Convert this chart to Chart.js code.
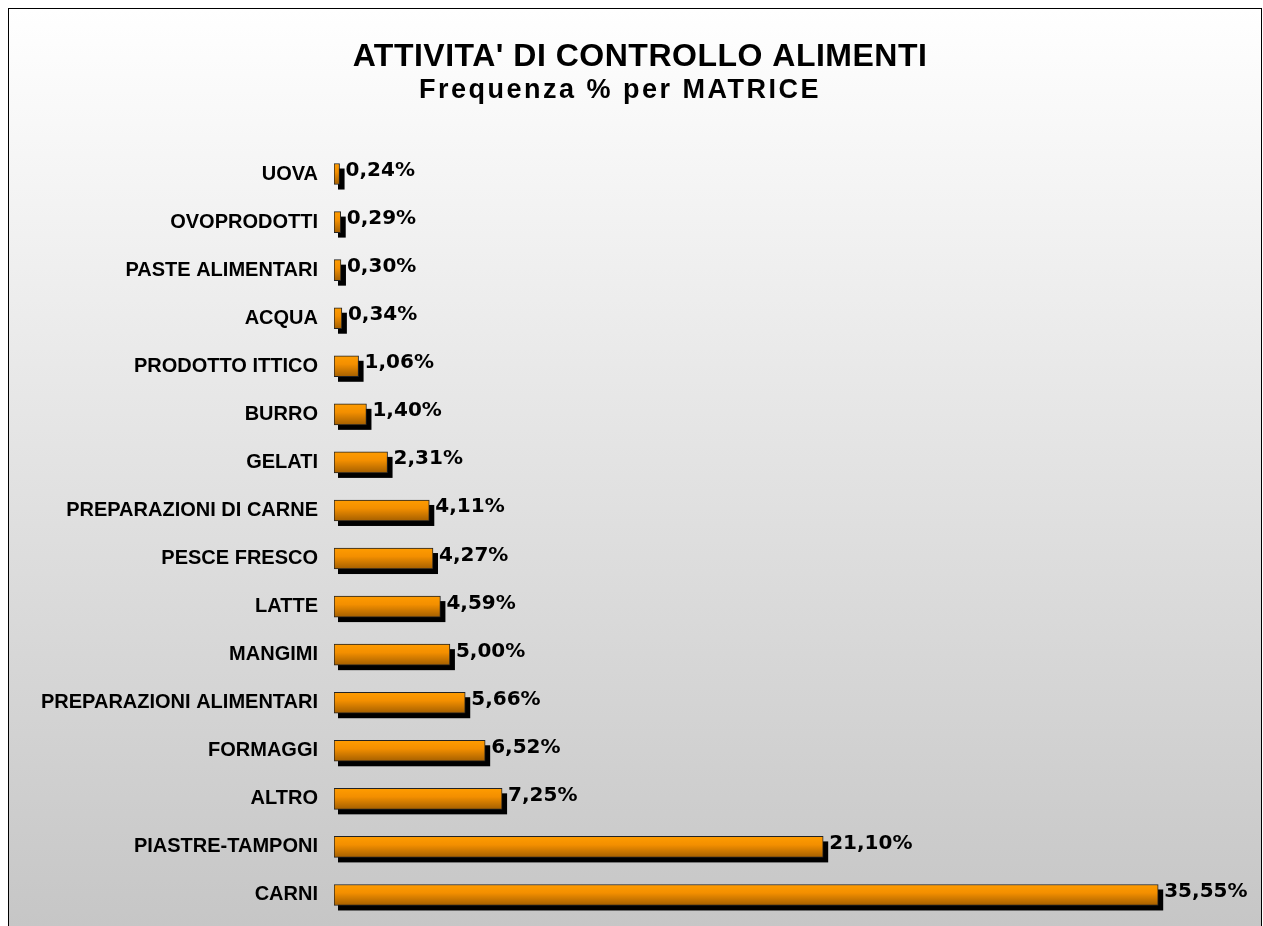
<!DOCTYPE html>
<html>
<head>
<meta charset="utf-8">
<script src="https://cdn.jsdelivr.net/npm/chart.js@4"></script>
<style>
  html, body { margin: 0; padding: 0; overflow: hidden; background: #fff; }
  #frame {
    position: absolute; left: 8px; top: 8px; width: 1252px; height: 1000px;
    border: 1px solid #000; border-bottom: none;
    background: linear-gradient(to bottom, #ffffff 0px, #c6c6c6 918px, #c2c2c2 1000px);
  }
  #myChart { position: absolute; left: 0; top: 0; }
</style>
</head>
<body>
<div id="frame"><canvas id="myChart" width="1252" height="917"></canvas></div>
<script>
// chart data
const titolo = "ATTIVITA' DI CONTROLLO ALIMENTI";
const sottotitolo = "Frequenza % per MATRICE";
const matrici = ['UOVA', 'OVOPRODOTTI', 'PASTE ALIMENTARI', 'ACQUA', 'PRODOTTO ITTICO', 'BURRO', 'GELATI',
  'PREPARAZIONI DI CARNE', 'PESCE FRESCO', 'LATTE', 'MANGIMI', 'PREPARAZIONI ALIMENTARI', 'FORMAGGI',
  'ALTRO', 'PIASTRE-TAMPONI', 'CARNI'];
const frequenze = [0.24, 0.29, 0.30, 0.34, 1.06, 1.40, 2.31, 4.11, 4.27, 4.59, 5.00, 5.66, 6.52, 7.25, 21.10, 35.55];

// shadow + gradient fill for the bars
const barStyle = {
  id: 'barStyle',
  beforeDatasetsDraw(chart) {
    const ctx = chart.ctx;
    const meta = chart.getDatasetMeta(0);
    ctx.save();
    ctx.fillStyle = '#000';
    meta.data.forEach(function (bar) {
      const left = Math.min(bar.base, bar.x);
      const w = Math.abs(bar.x - bar.base);
      const top = bar.y - bar.height / 2;
      ctx.fillRect(left + 4, top + 5, w + 1, bar.height);
      const g = ctx.createLinearGradient(0, top, 0, top + bar.height);
      g.addColorStop(0, '#ff9c00');
      g.addColorStop(0.4, '#f38f00');
      g.addColorStop(1, '#a45f00');
      bar.options.backgroundColor = g;
    });
    ctx.restore();
  },
  afterDatasetsDraw(chart) {
    const ctx = chart.ctx;
    const meta = chart.getDatasetMeta(0);
    ctx.save();
    ctx.font = 'bold 20px "DejaVu Sans"';
    ctx.fillStyle = '#000';
    ctx.textAlign = 'left';
    ctx.textBaseline = 'alphabetic';
    meta.data.forEach(function (bar, i) {
      const txt = frequenze[i].toFixed(2).replace('.', ',') + '%';
      ctx.fillText(txt, bar.x + 6, bar.y + 2);
    });
    ctx.restore();
  },
  afterDraw(chart) {
    const ctx = chart.ctx;
    ctx.save();
    ctx.fillStyle = '#000';
    ctx.textAlign = 'center';
    ctx.textBaseline = 'alphabetic';
    ctx.font = 'bold 32px "Liberation Sans"';
    ctx.letterSpacing = '0.5px';
    ctx.fillText(titolo, 631, 57);
    ctx.font = 'bold 27px "Liberation Sans"';
    ctx.letterSpacing = '2.5px';
    ctx.fillText(sottotitolo, 611, 89);
    ctx.restore();
  }
};

const ctx = document.getElementById('myChart').getContext('2d');
new Chart(ctx, {
  type: 'bar',
  data: {
    labels: matrici,
    datasets: [{
      label: 'Frequenza %',
      data: frequenze,
      // scriptable so every bar gets its own options object (own gradient)
      backgroundColor: function () { return '#f39000'; },
      borderColor: '#222',
      borderWidth: 1,
      borderSkipped: false,
      barThickness: 21
    }]
  },
  plugins: [barStyle],
  options: {
    indexAxis: 'y',
    responsive: false,
    animation: false,
    layout: { padding: { top: 141, bottom: 7, left: 0, right: 46 } },
    plugins: {
      legend: { display: false },
      tooltip: { enabled: false },
      title: { display: false }
    },
    scales: {
      x: {
        display: false,
        min: 0,
        max: 38
      },
      y: {
        afterFit(scale) {
          scale.width = 325;
          scale.paddingTop = 0;
          scale.paddingBottom = 0;
        },
        grid: { display: false, drawTicks: false },
        border: { display: false },
        ticks: {
          color: '#000',
          padding: 16,
          font: { family: 'Liberation Sans', size: 20, weight: 'bold' }
        }
      }
    }
  }
});
</script>
</body>
</html>
